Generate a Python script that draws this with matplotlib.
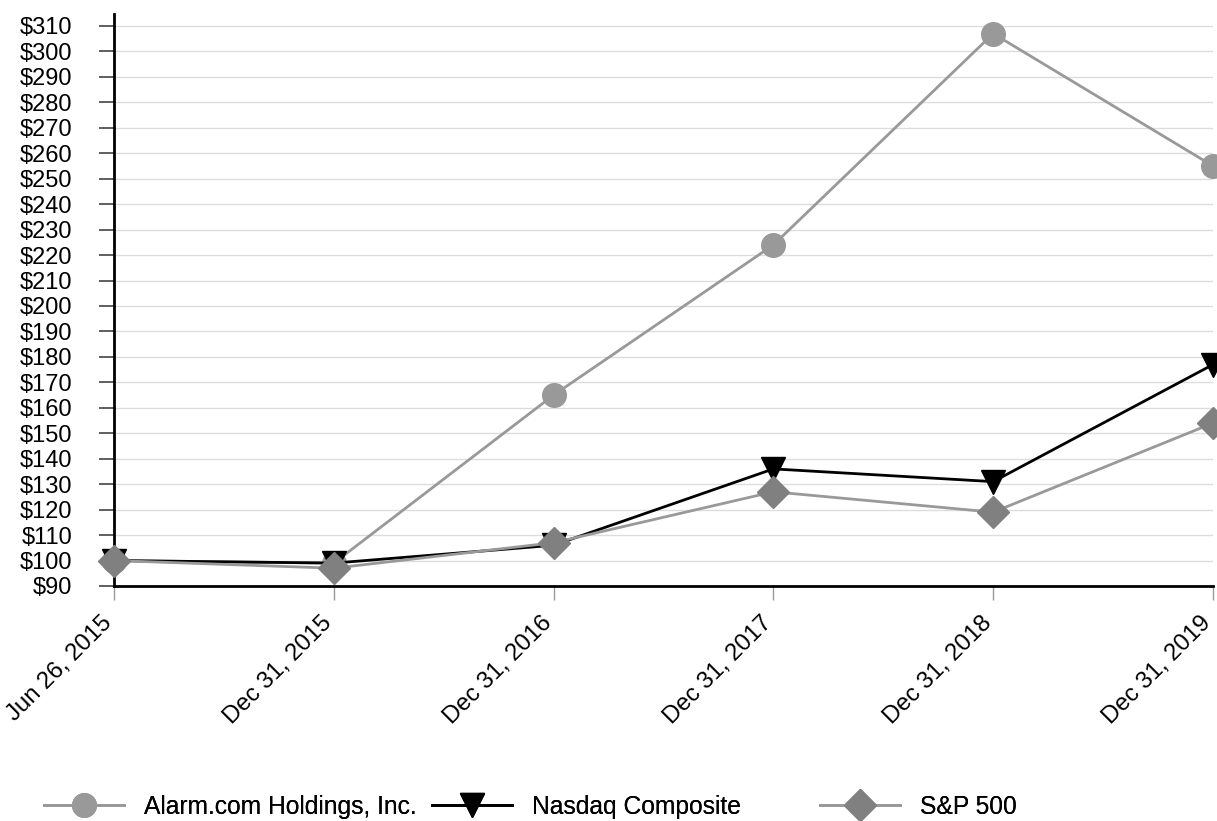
import numpy as np
import matplotlib
matplotlib.use('Agg')
import matplotlib.pyplot as plt
import matplotlib.transforms as mtransforms

plt.rcParams['font.family'] = ['Liberation Sans', 'DejaVu Sans']

dates = ['Jun 26, 2015', 'Dec 31, 2015', 'Dec 31, 2016',
         'Dec 31, 2017', 'Dec 31, 2018', 'Dec 31, 2019']
alarm = [100, 99, 165, 224, 307, 255]
nasdaq = [100, 99, 106, 136, 131, 177]
sp500 = [100, 97, 107, 127, 119, 154]

x = np.arange(len(dates))

fig = plt.figure(figsize=(12.17, 8.21), dpi=100)
ax = fig.add_axes([114 / 1217, 1 - 586 / 821, (1213 - 114) / 1217, (586 - 14) / 821])

l1, = ax.plot(x, alarm, color='#999999', lw=2, marker='o', ms=17,
              mfc='#999999', mec='#999999', clip_on=False, zorder=3,
              label='Alarm.com Holdings, Inc.')
l2, = ax.plot(x, nasdaq, color='black', lw=2, marker='v', ms=17,
              mfc='black', mec='black', clip_on=False, zorder=4,
              label='Nasdaq Composite')
l3, = ax.plot(x, sp500, color='#999999', lw=2, marker='D', ms=16,
              mfc='#808080', mec='#808080', clip_on=False, zorder=5,
              label='S&P 500')

ax.set_xlim(0, len(dates) - 1)
ax.set_ylim(90, 314.7)
yt = np.arange(90, 311, 10)
ax.set_yticks(yt)
ax.set_yticklabels(['$%d' % v for v in yt], fontsize=17)
ax.set_xticks(x)
ax.set_xticklabels(dates, rotation=45, ha='right', va='center',
                   rotation_mode='anchor', fontsize=17.3)

ax.yaxis.grid(True, color='#dddddd', lw=1)
ax.set_axisbelow(True)
for s in ['top', 'right']:
    ax.spines[s].set_visible(False)
ax.spines['left'].set_linewidth(2)
ax.spines['bottom'].set_linewidth(2)
ax.tick_params(axis='y', length=11, width=1.2, color='#444444', pad=19)
ax.tick_params(axis='x', length=10, width=1, color='#999999', pad=14)

# nudge the slanted labels a little left so the last one fits
shift = mtransforms.ScaledTranslation(-5 / 100, 0, fig.dpi_scale_trans)
for t in ax.xaxis.get_major_ticks():
    t.label1.set_transform(t.label1.get_transform() + shift)

# legend entries sit at fixed spacing along the bottom
for line, x0 in zip([l1, l2, l3], [44, 432, 820]):
    leg = fig.legend(handles=[line], loc='center left',
                     bbox_to_anchor=(x0 / 1217, 1 - 807 / 821),
                     frameon=False, fontsize=17.7, handlelength=3.25,
                     handletextpad=0.8, borderpad=0, borderaxespad=0)
    fig.add_artist(leg)

fig.savefig('out.png', dpi=100)
